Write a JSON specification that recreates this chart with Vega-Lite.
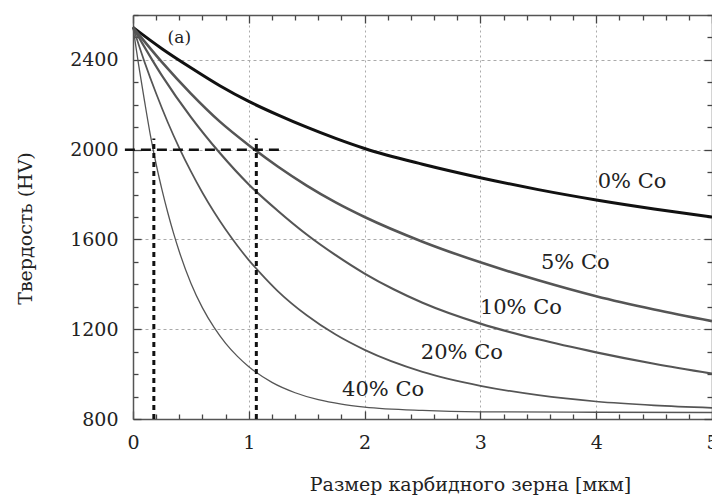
{
  "$schema": "https://vega.github.io/schema/vega-lite/v6.json",
  "width": 579,
  "height": 404,
  "autosize": {"type": "none"},
  "padding": {"left": 133, "top": 15, "right": 0, "bottom": 77},
  "background": "white",
  "config": {
    "view": {"stroke": null},
    "font": "DejaVu Serif",
    "axis": {
      "labelFont": "DejaVu Serif",
      "labelFontSize": 19,
      "labelColor": "#222",
      "titleFont": "DejaVu Serif",
      "titleFontSize": 19,
      "titleFontWeight": "normal",
      "titleColor": "#222",
      "domainColor": "#555",
      "domainWidth": 1.5,
      "tickColor": "#444",
      "tickWidth": 1.3
    }
  },
  "datasets": {
    "curves": [
      {"series": "0%", "d": 0, "hv": 2545}, {"series": "0%", "d": 0.25, "hv": 2450}, {"series": "0%", "d": 0.5, "hv": 2365},
      {"series": "0%", "d": 0.75, "hv": 2285}, {"series": "0%", "d": 1, "hv": 2215}, {"series": "0%", "d": 1.25, "hv": 2155},
      {"series": "0%", "d": 1.5, "hv": 2100}, {"series": "0%", "d": 1.75, "hv": 2050}, {"series": "0%", "d": 2, "hv": 2005},
      {"series": "0%", "d": 2.5, "hv": 1935}, {"series": "0%", "d": 3, "hv": 1875}, {"series": "0%", "d": 3.5, "hv": 1822},
      {"series": "0%", "d": 4, "hv": 1776}, {"series": "0%", "d": 4.5, "hv": 1736}, {"series": "0%", "d": 5, "hv": 1700},

      {"series": "5%", "d": 0, "hv": 2545}, {"series": "5%", "d": 0.25, "hv": 2390}, {"series": "5%", "d": 0.5, "hv": 2250},
      {"series": "5%", "d": 0.75, "hv": 2125}, {"series": "5%", "d": 1, "hv": 2020}, {"series": "5%", "d": 1.25, "hv": 1925},
      {"series": "5%", "d": 1.5, "hv": 1840}, {"series": "5%", "d": 1.75, "hv": 1765}, {"series": "5%", "d": 2, "hv": 1700},
      {"series": "5%", "d": 2.5, "hv": 1590}, {"series": "5%", "d": 3, "hv": 1498}, {"series": "5%", "d": 3.5, "hv": 1418},
      {"series": "5%", "d": 4, "hv": 1347}, {"series": "5%", "d": 4.5, "hv": 1288}, {"series": "5%", "d": 5, "hv": 1236},

      {"series": "10%", "d": 0, "hv": 2545}, {"series": "10%", "d": 0.25, "hv": 2330}, {"series": "10%", "d": 0.5, "hv": 2145},
      {"series": "10%", "d": 0.75, "hv": 1985}, {"series": "10%", "d": 1, "hv": 1845}, {"series": "10%", "d": 1.25, "hv": 1728},
      {"series": "10%", "d": 1.5, "hv": 1622}, {"series": "10%", "d": 1.75, "hv": 1530}, {"series": "10%", "d": 2, "hv": 1448},
      {"series": "10%", "d": 2.25, "hv": 1378}, {"series": "10%", "d": 2.5, "hv": 1318}, {"series": "10%", "d": 3, "hv": 1225},
      {"series": "10%", "d": 3.5, "hv": 1155}, {"series": "10%", "d": 4, "hv": 1097}, {"series": "10%", "d": 4.5, "hv": 1046},
      {"series": "10%", "d": 5, "hv": 1002},

      {"series": "20%", "d": 0, "hv": 2545}, {"series": "20%", "d": 0.1, "hv": 2390}, {"series": "20%", "d": 0.2, "hv": 2250},
      {"series": "20%", "d": 0.3, "hv": 2122}, {"series": "20%", "d": 0.4, "hv": 2007}, {"series": "20%", "d": 0.5, "hv": 1903},
      {"series": "20%", "d": 0.6, "hv": 1808}, {"series": "20%", "d": 0.7, "hv": 1722}, {"series": "20%", "d": 0.8, "hv": 1644},
      {"series": "20%", "d": 0.9, "hv": 1573}, {"series": "20%", "d": 1, "hv": 1508}, {"series": "20%", "d": 1.1, "hv": 1450},
      {"series": "20%", "d": 1.25, "hv": 1370}, {"series": "20%", "d": 1.5, "hv": 1262}, {"series": "20%", "d": 1.75, "hv": 1176},
      {"series": "20%", "d": 2, "hv": 1108}, {"series": "20%", "d": 2.5, "hv": 1010}, {"series": "20%", "d": 3, "hv": 948},
      {"series": "20%", "d": 3.5, "hv": 906}, {"series": "20%", "d": 4, "hv": 878}, {"series": "20%", "d": 4.5, "hv": 861},
      {"series": "20%", "d": 5, "hv": 850},

      {"series": "40%", "d": 0, "hv": 2545}, {"series": "40%", "d": 0.05, "hv": 2373}, {"series": "40%", "d": 0.1, "hv": 2215},
      {"series": "40%", "d": 0.15, "hv": 2065}, {"series": "40%", "d": 0.2, "hv": 1935}, {"series": "40%", "d": 0.25, "hv": 1822},
      {"series": "40%", "d": 0.3, "hv": 1720}, {"series": "40%", "d": 0.35, "hv": 1628}, {"series": "40%", "d": 0.4, "hv": 1545},
      {"series": "40%", "d": 0.5, "hv": 1405}, {"series": "40%", "d": 0.6, "hv": 1295}, {"series": "40%", "d": 0.7, "hv": 1208},
      {"series": "40%", "d": 0.8, "hv": 1137}, {"series": "40%", "d": 0.9, "hv": 1080}, {"series": "40%", "d": 1, "hv": 1033},
      {"series": "40%", "d": 1.2, "hv": 963}, {"series": "40%", "d": 1.4, "hv": 917}, {"series": "40%", "d": 1.6, "hv": 886},
      {"series": "40%", "d": 1.8, "hv": 866}, {"series": "40%", "d": 2, "hv": 853}, {"series": "40%", "d": 2.5, "hv": 838},
      {"series": "40%", "d": 3, "hv": 832}, {"series": "40%", "d": 4, "hv": 830}, {"series": "40%", "d": 5, "hv": 829}
    ],
    "labels": [
      {"d": 4.31, "hv": 1856, "text": "0% Co"},
      {"d": 3.82, "hv": 1496, "text": "5% Co"},
      {"d": 3.35, "hv": 1296, "text": "10% Co"},
      {"d": 2.84, "hv": 1094, "text": "20% Co"},
      {"d": 2.16, "hv": 929, "text": "40% Co"}
    ],
    "hrule": [{"d": -0.07, "d2": 1.29, "hv": 2000}],
    "vrules": [{"d": 0.18, "hv": 800, "hv2": 2050}, {"d": 1.065, "hv": 800, "hv2": 2050}],
    "panel": [{"d": 0.4, "hv": 2497, "text": "(a)"}]
  },
  "layer": [
    {
      "data": {"name": "curves"},
      "mark": {"type": "line", "interpolate": "monotone"},
      "encoding": {
        "x": {
          "field": "d", "type": "quantitative",
          "scale": {"domain": [0, 5], "nice": false, "zero": false},
          "axis": {
            "orient": "bottom",
            "title": "Размер карбидного зерна [мкм]",
            "titleX": 337, "titleY": 71, "titleBaseline": "alphabetic", "titleAnchor": null, "titleAlign": "center",
            "values": [0,0.2,0.4,0.6,0.8,1,1.2,1.4,1.6,1.8,2,2.2,2.4,2.6,2.8,3,3.2,3.4,3.6,3.8,4,4.2,4.4,4.6,4.8,5],
            "labelExpr": "abs(datum.value - round(datum.value)) < 0.01 ? format(datum.value, 'd') : ''",
            "labelFlush": false,
            "labelOverlap": false,
            "labelPadding": 22,
            "tickSize": {"condition": {"test": "abs(datum.value - round(datum.value)) < 0.01", "value": -8}, "value": -5},
            "grid": true,
            "gridColor": "#aaa",
            "gridDash": [2, 3],
            "gridWidth": 1,
            "gridOpacity": {"condition": {"test": "abs(datum.value - round(datum.value)) < 0.01 && datum.value > 0.5 && datum.value < 4.5", "value": 1}, "value": 0}
          }
        },
        "y": {
          "field": "hv", "type": "quantitative",
          "scale": {"domain": [800, 2600], "nice": false, "zero": false},
          "axis": {
            "orient": "left",
            "title": "Твердость (HV)",
            "titleX": -108, "titleY": 213, "titleAngle": -90, "titleBaseline": "middle", "titleAlign": "center", "titleAnchor": null,
            "values": [800,900,1000,1100,1200,1300,1400,1500,1600,1700,1800,1900,2000,2100,2200,2300,2400,2500,2600],
            "labelExpr": "datum.value % 400 == 0 ? format(datum.value, 'd') : ''",
            "labelOverlap": false,
            "labelFlush": false,
            "labelPadding": 23,
            "tickSize": {"condition": {"test": "datum.value % 400 == 0", "value": -8}, "value": -5},
            "grid": true,
            "gridColor": "#aaa",
            "gridDash": [3, 3],
            "gridWidth": 1,
            "gridOpacity": {"condition": {"test": "datum.value % 400 == 0 && datum.value > 800 && datum.value < 2600", "value": 1}, "value": 0}
          }
        },
        "detail": {"field": "series"},
        "color": {"field": "series", "type": "nominal", "scale": {"domain": ["0%", "5%", "10%", "20%", "40%"], "range": ["#111111", "#555555", "#555555", "#555555", "#555555"]}, "legend": null},
        "strokeWidth": {"field": "series", "type": "nominal", "scale": {"domain": ["0%", "5%", "10%", "20%", "40%"], "range": [3, 1.3, 1.3, 1.3, 1.3]}, "legend": null}
      }
    },
    {
      "data": {"name": "labels"},
      "mark": {"type": "text", "font": "DejaVu Serif", "fontSize": 21, "color": "#222", "align": "center", "baseline": "middle"},
      "encoding": {
        "x": {
          "field": "d", "type": "quantitative",
          "scale": {"domain": [0, 5], "nice": false, "zero": false},
          "axis": {
            "orient": "top", "title": null, "labels": false, "grid": false,
            "values": [0,0.2,0.4,0.6,0.8,1,1.2,1.4,1.6,1.8,2,2.2,2.4,2.6,2.8,3,3.2,3.4,3.6,3.8,4,4.2,4.4,4.6,4.8,5],
            "tickSize": {"condition": {"test": "abs(datum.value - round(datum.value)) < 0.01", "value": -8}, "value": -5}
          }
        },
        "y": {
          "field": "hv", "type": "quantitative",
          "scale": {"domain": [800, 2600], "nice": false, "zero": false},
          "axis": {
            "orient": "right", "title": null, "labels": false, "grid": false,
            "values": [800,900,1000,1100,1200,1300,1400,1500,1600,1700,1800,1900,2000,2100,2200,2300,2400,2500,2600],
            "tickSize": {"condition": {"test": "datum.value % 400 == 0", "value": -8}, "value": -5}
          }
        },
        "text": {"field": "text"}
      }
    },
    {
      "data": {"name": "hrule"},
      "mark": {"type": "rule", "color": "#111", "strokeWidth": 2.5, "strokeDash": [10, 6]},
      "encoding": {
        "x": {"field": "d", "type": "quantitative", "axis": null},
        "x2": {"field": "d2"},
        "y": {"field": "hv", "type": "quantitative", "axis": null}
      }
    },
    {
      "data": {"name": "vrules"},
      "mark": {"type": "rule", "color": "#111", "strokeWidth": 3, "strokeDash": [5, 4]},
      "encoding": {
        "x": {"field": "d", "type": "quantitative", "axis": null},
        "y": {"field": "hv", "type": "quantitative", "axis": null},
        "y2": {"field": "hv2"}
      }
    },
    {
      "data": {"name": "panel"},
      "mark": {"type": "text", "font": "DejaVu Serif", "fontSize": 17, "color": "#222", "align": "center", "baseline": "middle"},
      "encoding": {
        "x": {"field": "d", "type": "quantitative", "axis": null},
        "y": {"field": "hv", "type": "quantitative", "axis": null},
        "text": {"field": "text"}
      }
    }
  ],
  "resolve": {"axis": {"x": "independent", "y": "independent"}}
}
